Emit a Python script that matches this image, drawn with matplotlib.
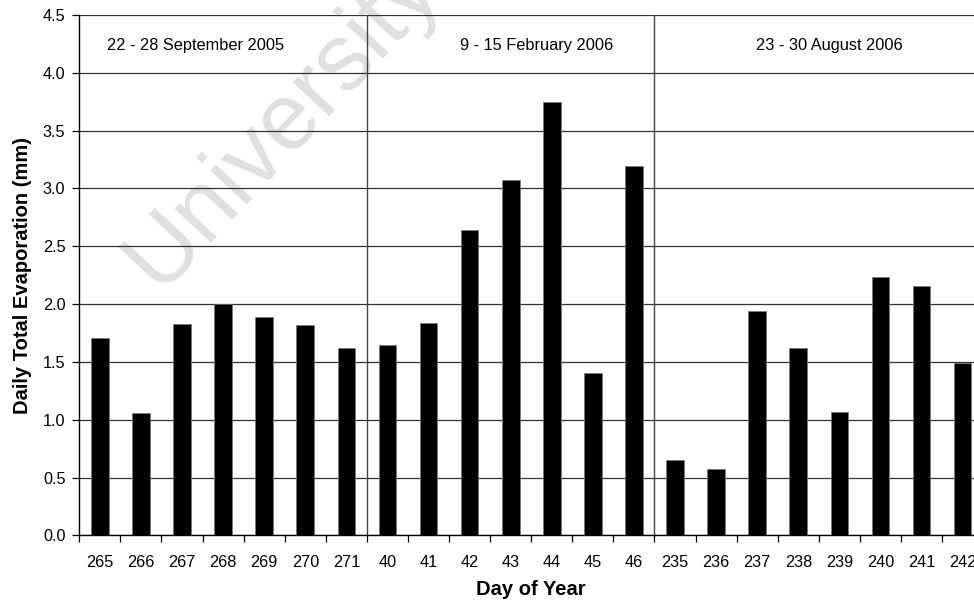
import matplotlib
matplotlib.use("Agg")

import numpy as np
import matplotlib.pyplot as plt

# ------------------ DATA ------------------

days = ["265", "266", "267", "268", "269", "270", "271",
        "40", "41", "42", "43", "44", "45", "46",
        "235", "236", "237", "238", "239", "240", "241", "242"]

evaporation = [1.71, 1.06, 1.83, 2.00, 1.89, 1.82, 1.62,
               1.65, 1.84, 2.64, 3.07, 3.75, 1.40, 3.19,
               0.65, 0.57, 1.94, 1.62, 1.07, 2.23, 2.16, 1.49]

periods = ["22 - 28 September 2005", "9 - 15 February 2006", "23 - 30 August 2006"]
period_sizes = [7, 7, 8]

# ------------------ STYLE ------------------

plt.rcParams["font.family"] = ["Liberation Sans", "DejaVu Sans"]

fig = plt.figure(figsize=(9.74, 6.01), dpi=100)
# axes runs a little past the right edge of the picture, like the original
ax = fig.add_axes([0.0814, 0.1093, 0.928, 0.8657])
ax.patch.set_facecolor("none")

x = np.arange(len(days))
ax.bar(x, evaporation, width=0.43, color="black", edgecolor="#777777",
       linewidth=0.5, zorder=3)

ax.set_xlim(-0.5, len(days) - 0.5)
ax.set_ylim(0, 4.5)
yt = np.arange(0, 4.51, 0.5)
ax.set_yticks(yt)
ax.set_yticklabels([f"{v:.1f}" for v in yt])
ax.yaxis.grid(True, color="#333333", linewidth=0.9, zorder=1)
ax.set_axisbelow(True)

# category boundaries get the tick marks, labels sit in between
ax.set_xticks(np.arange(-0.5, len(days), 1.0))
ax.set_xticklabels([])
ax.set_xticks(x, minor=True)
ax.set_xticklabels(days, minor=True)
ax.tick_params(axis="x", which="major", direction="out", length=5, width=0.9)
ax.tick_params(axis="x", which="minor", length=0, pad=14, labelsize=11.7)
ax.tick_params(axis="y", direction="out", length=5, width=0.9, pad=5, labelsize=11.7)

for side in ["top", "right"]:
    ax.spines[side].set_visible(False)
for side in ["left", "bottom"]:
    ax.spines[side].set_linewidth(1.0)

# period separators and headings
bounds = np.cumsum(period_sizes)[:-1] - 0.5
for b in bounds:
    ax.axvline(b, color="#444444", linewidth=1.0, zorder=2)

heading_x = [2.34, 10.64, 17.75]
for hx, label in zip(heading_x, periods):
    ax.text(hx, 4.24, label, ha="center", va="center", fontsize=11.8)

ax.set_xlabel("Day of Year", fontsize=14.5, fontweight="bold", va="center")
ax.xaxis.set_label_coords(0.5, -0.105)
ax.set_ylabel("Daily Total Evaporation (mm)", fontsize=14.5, fontweight="bold", va="center")
ax.yaxis.set_label_coords(-0.0623, 0.5)

# faint watermark of the source document
fig.text(0.29, 0.795, "University", fontsize=68, color="#e0e0e0", rotation=47,
         ha="center", va="center", zorder=-1)

fig.savefig("out.png", dpi=100)
plt.close(fig)
